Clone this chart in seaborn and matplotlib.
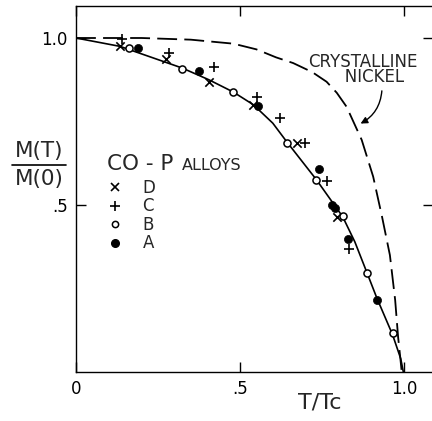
import numpy as np
import pandas as pd
import matplotlib
matplotlib.use("Agg")
import matplotlib.pyplot as plt
import seaborn as sns
from matplotlib.lines import Line2D

# ── data ──────────────────────────────────────────────────────────────────────
d_x = [0.134, 0.274, 0.405, 0.541, 0.675, 0.797]
d_y = [0.976, 0.936, 0.869, 0.799, 0.687, 0.463]

c_x = [0.139, 0.285, 0.421, 0.553, 0.622, 0.698, 0.764, 0.831]
c_y = [0.996, 0.956, 0.914, 0.824, 0.759, 0.687, 0.573, 0.367]

b_x = [0.162, 0.324, 0.480, 0.642, 0.732, 0.813, 0.886, 0.965]
b_y = [0.969, 0.907, 0.839, 0.687, 0.575, 0.467, 0.296, 0.116]

a_x = [0.188, 0.375, 0.556, 0.742, 0.782, 0.790, 0.830, 0.917]
a_y = [0.969, 0.902, 0.796, 0.607, 0.500, 0.490, 0.398, 0.216]

# solid curve through the Co-P points
fit_x = [0.0, 0.134, 0.324, 0.405, 0.480, 0.541, 0.600, 0.642, 0.732, 0.813,
         0.850, 0.886, 0.917, 0.965, 0.990, 0.998]
fit_y = [1.0, 0.975, 0.910, 0.875, 0.838, 0.800, 0.745, 0.690, 0.577, 0.465,
         0.390, 0.300, 0.222, 0.112, 0.040, 0.0]

# crystalline nickel (dashed)
ni_x = [0.0, 0.20, 0.35, 0.48, 0.55, 0.61, 0.662, 0.720, 0.764, 0.795, 0.825,
        0.871, 0.906, 0.933, 0.957, 0.973, 0.982, 0.990, 0.993]
ni_y = [1.0, 1.0, 0.995, 0.983, 0.966, 0.942, 0.925, 0.898, 0.869, 0.836, 0.794,
        0.695, 0.585, 0.465, 0.350, 0.216, 0.105, 0.030, 0.0]

x_ticks = [0.0, 0.5, 1.0]
x_tick_labels = ["0", ".5", "1.0"]
y_ticks = [0.5, 1.0]
y_tick_labels = [".5", "1.0"]

series_labels = ["D", "C", "B", "A"]

# ── plot ──────────────────────────────────────────────────────────────────────
sns.set_style("ticks")
plt.rcParams["font.family"] = ["DejaVu Sans"]

fig = plt.figure(figsize=(4.32, 4.21), dpi=100)
ax = fig.add_axes([76 / 432, 1 - 372 / 421, (433 - 76) / 432, 366 / 421])

sns.lineplot(x=ni_x, y=ni_y, sort=False, color="black", lw=1.3,
             ls=(0, (11, 4)), ax=ax, zorder=2)
sns.lineplot(x=fit_x, y=fit_y, sort=False, color="black", lw=1.2, ax=ax, zorder=2)

sns.scatterplot(x=d_x, y=d_y, marker="x", color="black", s=36, linewidth=1.2,
                ax=ax, zorder=3)
sns.scatterplot(x=c_x, y=c_y, marker="+", color="black", s=50, linewidth=1.2,
                ax=ax, zorder=3)
sns.scatterplot(x=b_x, y=b_y, marker="o", color="white", edgecolor="black",
                s=26, linewidth=1.1, ax=ax, zorder=4)
sns.scatterplot(x=a_x, y=a_y, marker="o", color="black", edgecolor="black",
                s=34, linewidth=0.5, ax=ax, zorder=4)

ax.set_xlim(0, (433 - 76) / 328)
ax.set_ylim(0, 366 / 334)
ax.set_xticks(x_ticks)
ax.set_xticklabels(x_tick_labels)
ax.set_yticks(y_ticks)
ax.set_yticklabels(y_tick_labels)
ax.tick_params(direction="in", length=7, width=1.0, labelsize=12,
               top=True, right=True, pad=6, colors="black")
for sp in ax.spines.values():
    sp.set_linewidth(1.0)
    sp.set_color("black")
ax.set_xlabel("")
ax.set_ylabel("")

# legend
handles = [
    Line2D([], [], marker="x", ls="none", color="black", markersize=6, mew=1.2),
    Line2D([], [], marker="+", ls="none", color="black", markersize=7.5, mew=1.2),
    Line2D([], [], marker="o", ls="none", markerfacecolor="white",
           markeredgecolor="black", markersize=4.5, mew=1.1),
    Line2D([], [], marker="o", ls="none", color="black", markersize=5.5),
]
leg = ax.legend(handles, series_labels, loc="upper left",
                bbox_to_anchor=(0.091, 0.578), bbox_transform=ax.transData,
                frameon=False, fontsize=12, borderpad=0, handlelength=1.1,
                handletextpad=1.1, labelspacing=0.03, borderaxespad=0)

ax.text(0.094, 0.605, "CO - P", fontsize=15.5, ha="left", va="baseline")
ax.text(0.323, 0.605, "ALLOYS", fontsize=11.5, ha="left", va="baseline")

# crystalline nickel label + arrow
ax.text(0.707, 0.905, "CRYSTALLINE\n       NICKEL", fontsize=12, ha="left",
        va="center", multialignment="left", linespacing=0.8)
ax.annotate("", xy=(0.860, 0.740), xytext=(0.933, 0.850),
            arrowprops=dict(arrowstyle="-|>", color="black", lw=1.0,
                            mutation_scale=10,
                            connectionstyle="arc3,rad=-0.3"))

# axis titles
fig.text(320 / 432, 1 - 403 / 421, "T/Tc", fontsize=16, ha="center", va="center")
fig.text(39 / 432, 1 - 151 / 421, "M(T)", fontsize=15.5, ha="center", va="center")
fig.text(39 / 432, 1 - 179 / 421, "M(0)", fontsize=15.5, ha="center", va="center")
fig.add_artist(Line2D([12 / 432, 66 / 432], [1 - 165 / 421] * 2,
                      transform=fig.transFigure, color="black", lw=1.2))

fig.savefig("out.png", dpi=100)
